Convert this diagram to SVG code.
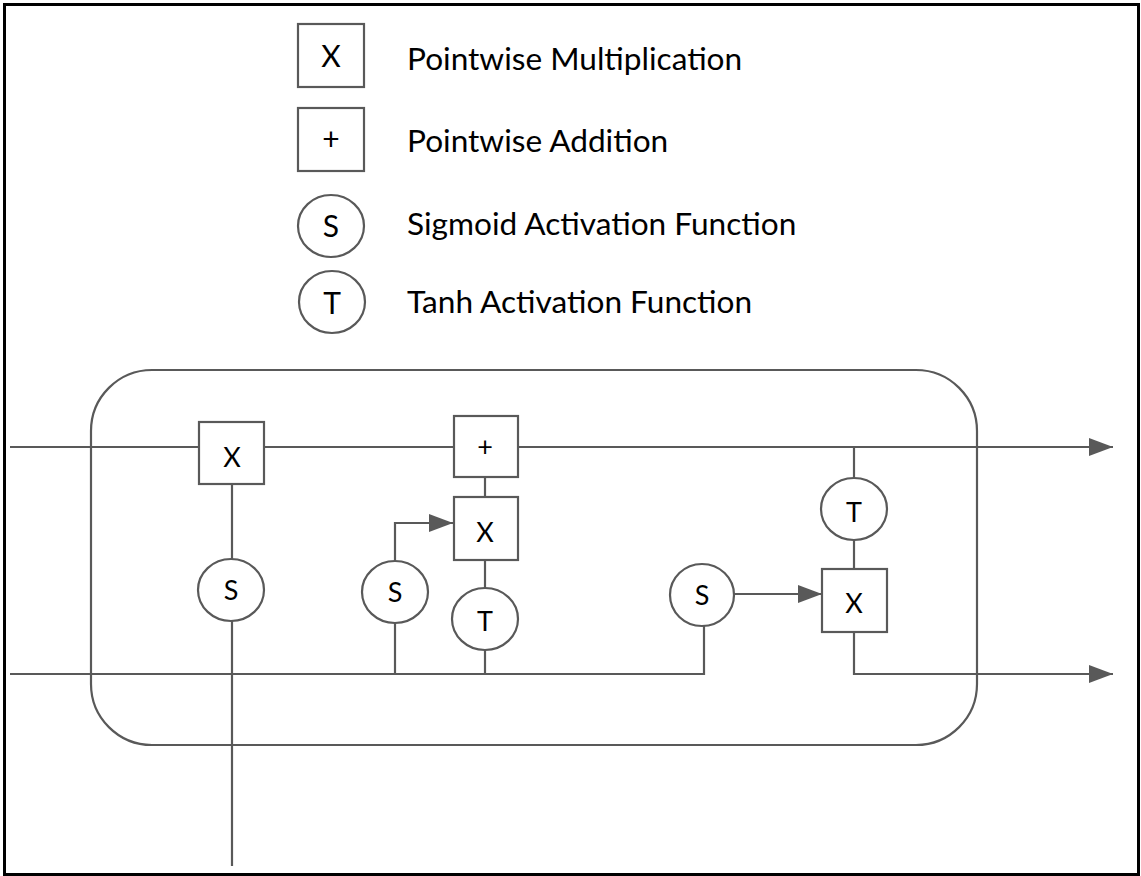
<svg xmlns="http://www.w3.org/2000/svg" width="1141" height="876" viewBox="0 0 1141 876">
<defs>
<style>
.ln{fill:none;stroke:#595959;stroke-width:2.2}
.nd{fill:#ffffff;stroke:#595959;stroke-width:2.2}
.lg{font-family:Lato,"Open Sans",sans-serif;font-size:31.6px;fill:#000}
.sym{font-family:Lato,"Open Sans",sans-serif;font-size:27px;fill:#000;text-anchor:middle}
.lsym{font-family:Lato,"Open Sans",sans-serif;font-size:30px;fill:#000;text-anchor:middle}
</style>
<marker id="ah" viewBox="0 0 24 18" refX="24" refY="9" markerWidth="24" markerHeight="18" markerUnits="userSpaceOnUse" orient="auto">
<path d="M0,0 L24,9 L0,18 Z" fill="#595959"/>
</marker>
</defs>
<rect x="0" y="0" width="1141" height="876" fill="#ffffff"/>
<rect x="4.5" y="4.5" width="1134" height="870" fill="none" stroke="#000" stroke-width="3"/>

<g id="legend">
<g id="legend-mult">
<rect class="nd" x="298" y="24" width="66" height="63"/>
<text class="lsym" x="331" y="67">X</text>
<text class="lg" x="407" y="70">Pointwise Multiplication</text>
</g>
<g id="legend-add">
<rect class="nd" x="298" y="108" width="66" height="63"/>
<text class="lsym" x="331" y="150">+</text>
<text class="lg" x="407" y="152">Pointwise Addition</text>
</g>
<g id="legend-sigmoid">
<ellipse class="nd" cx="331" cy="226" rx="33" ry="31"/>
<text class="lsym" x="331" y="237">S</text>
<text class="lg" x="407" y="235">Sigmoid Activation Function</text>
</g>
<g id="legend-tanh">
<ellipse class="nd" cx="332" cy="302" rx="33" ry="31"/>
<text class="lsym" x="332" y="314">T</text>
<text class="lg" x="407" y="313">Tanh Activation Function</text>
</g>
</g>

<g id="cell">
<rect x="91" y="370" width="886" height="375" rx="61" ry="61" fill="none" stroke="#595959" stroke-width="2.2"/>
</g>

<g id="connectors">
<path class="ln" d="M10,447 H1113" marker-end="url(#ah)"/>
<path class="ln" d="M10,674 H704 V626"/>
<path class="ln" d="M232,484 V866"/>
<path class="ln" d="M485,477 V497"/>
<path class="ln" d="M485,560 V674"/>
<path class="ln" d="M395,674 V561"/>
<path class="ln" d="M395,561 V523 H453" marker-end="url(#ah)"/>
<path class="ln" d="M854,447 V569"/>
<path class="ln" d="M733,594 H822" marker-end="url(#ah)"/>
<path class="ln" d="M854,632 V674 H1113" marker-end="url(#ah)"/>
</g>

<g id="forget-mult">
<rect class="nd" x="199" y="422" width="65" height="62"/>
<text class="sym" x="232" y="467">X</text>
</g>
<g id="forget-sigmoid">
<ellipse class="nd" cx="231" cy="590" rx="33" ry="31"/>
<text class="sym" x="231" y="600">S</text>
</g>
<g id="add">
<rect class="nd" x="454" y="416" width="64" height="61"/>
<text class="sym" x="485" y="456">+</text>
</g>
<g id="input-mult">
<rect class="nd" x="454" y="497" width="64" height="63"/>
<text class="sym" x="485" y="542">X</text>
</g>
<g id="input-sigmoid">
<ellipse class="nd" cx="395" cy="592" rx="33" ry="31"/>
<text class="sym" x="395" y="602">S</text>
</g>
<g id="input-tanh">
<ellipse class="nd" cx="485" cy="619" rx="33" ry="31"/>
<text class="sym" x="485" y="631">T</text>
</g>
<g id="output-tanh">
<ellipse class="nd" cx="854" cy="509" rx="33" ry="31"/>
<text class="sym" x="854" y="522">T</text>
</g>
<g id="output-sigmoid">
<ellipse class="nd" cx="702" cy="595" rx="32" ry="31"/>
<text class="sym" x="702" y="605">S</text>
</g>
<g id="output-mult">
<rect class="nd" x="822" y="569" width="65" height="63"/>
<text class="sym" x="854" y="613">X</text>
</g>
</svg>
